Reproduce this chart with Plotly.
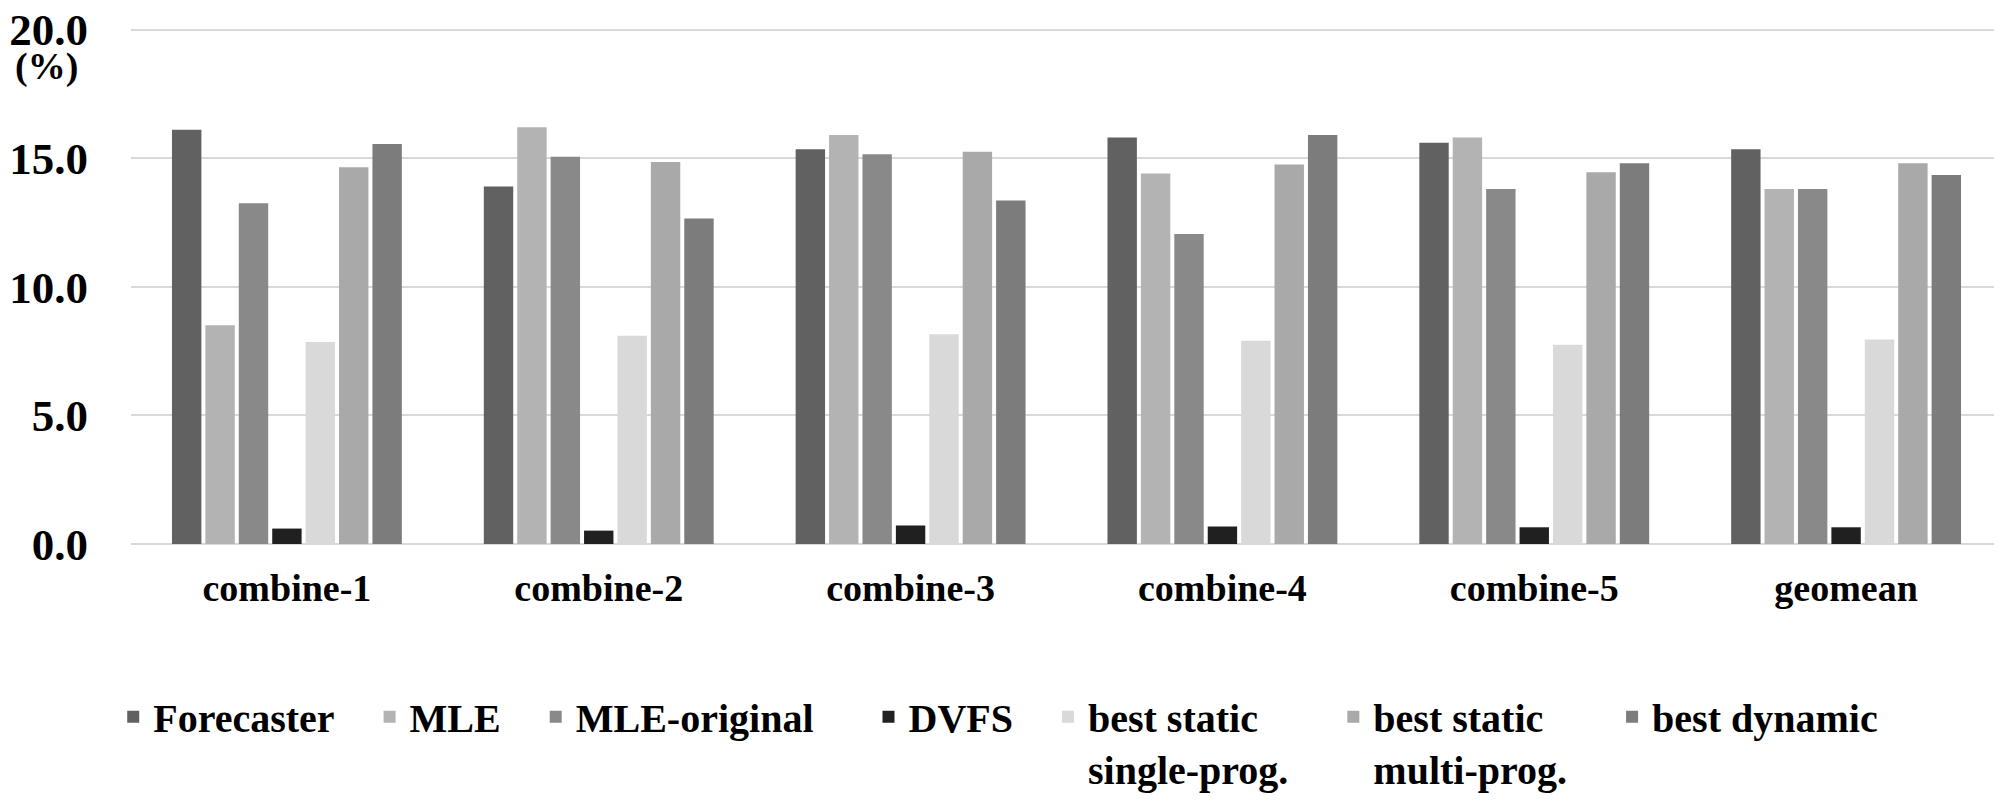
import plotly.graph_objects as go

categories = ["combine-1", "combine-2", "combine-3", "combine-4", "combine-5", "geomean"]

series_names = ["Forecaster", "MLE", "MLE-original", "DVFS",
                "best static<br>single-prog.", "best static<br>multi-prog.", "best dynamic"]

forecaster = [16.1, 13.9, 15.35, 15.8, 15.6, 15.35]
mle = [8.5, 16.2, 15.9, 14.4, 15.8, 13.8]
mle_original = [13.25, 15.05, 15.15, 12.05, 13.8, 13.8]
dvfs = [0.6, 0.52, 0.72, 0.68, 0.65, 0.65]
best_static_single = [7.85, 8.1, 8.15, 7.9, 7.75, 7.95]
best_static_multi = [14.65, 14.85, 15.25, 14.75, 14.45, 14.8]
best_dynamic = [15.55, 12.65, 13.35, 15.9, 14.8, 14.35]

colors = ["#616161", "#b3b3b3", "#898989", "#202020", "#d9d9d9", "#a9a9a9", "#7c7c7c"]

all_series = [forecaster, mle, mle_original, dvfs, best_static_single, best_static_multi, best_dynamic]

# trailing non-breaking spaces to reproduce the spacing between legend entries
legend_pads = [3, 3, 5, 3, 4, 4, 3]

FONT = "Liberation Serif"

fig = go.Figure()
for name, vals, col, pad in zip(series_names, all_series, colors, legend_pads):
    fig.add_trace(go.Bar(
        x=categories, y=vals, name=name + "\u00a0" * pad,
        marker=dict(color=col, line=dict(width=0)),
    ))

fig.update_layout(
    width=1994, height=789,
    paper_bgcolor="white", plot_bgcolor="white",
    margin=dict(l=123, r=0, t=19.5, b=253, autoexpand=False),
    barmode="group", bargap=0.25, bargroupgap=0.12,
    font=dict(family=FONT, color="black"),
    showlegend=True,
    legend=dict(
        orientation="h", x=-0.0095, xanchor="left",
        y=-0.272, yref="paper", yanchor="top",
        font=dict(family=FONT, size=40, color="black", weight="bold"),
        valign="top", traceorder="normal",
        bgcolor="rgba(0,0,0,0)",
    ),
)

fig.update_yaxes(
    range=[0, 20.06], tickvals=[0, 5, 10, 15, 20], tickformat=".1f",
    showgrid=True, gridcolor="#d9d9d9", gridwidth=2,
    zeroline=True, zerolinecolor="#d9d9d9", zerolinewidth=2,
    showline=False, ticks="",
    tickfont=dict(family=FONT, size=45, color="black", weight="bold"),
    ticklabelstandoff=42, ticklabeloverflow="allow",
)
fig.update_xaxes(
    showgrid=False, showline=False, ticks="",
    tickfont=dict(family=FONT, size=38, color="black", weight="bold"),
    ticklabelstandoff=18,
)

fig.add_annotation(
    text="(%)", xref="paper", yref="paper",
    x=-0.0449, y=0.925, xanchor="center", yanchor="middle",
    showarrow=False,
    font=dict(family=FONT, size=38, color="black", weight="bold"),
)

fig.write_html("out.html")
